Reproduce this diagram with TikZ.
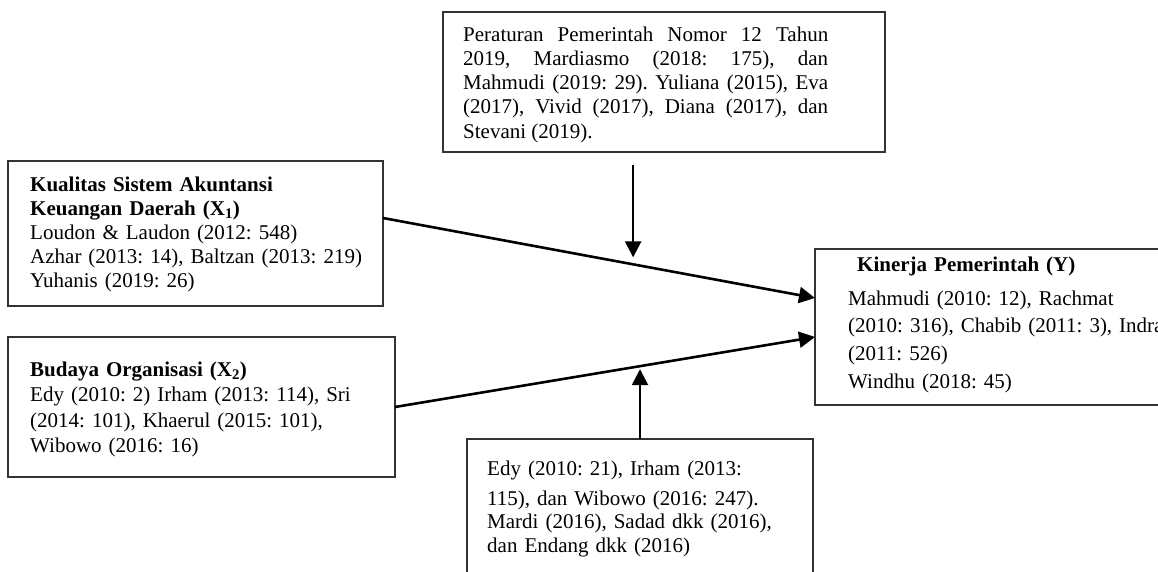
\documentclass[tikz,border=0pt]{standalone}
\usepackage{fontspec}
\setmainfont{Liberation Serif}
\usetikzlibrary{arrows.meta,calc}

\tikzset{
  refbox/.style={draw=black!80, line width=1.2pt, inner sep=0pt, outer sep=0pt, anchor=north west},
  reftext/.style={inner sep=0pt, anchor=base west, text width=380pt, align=left},
  link/.style={line width=2.6pt, -{Triangle[length=16pt,width=16pt]}},
}
\newcommand{\reffont}[1]{\fontsize{21}{#1}\selectfont\frenchspacing}

\begin{document}
\begin{tikzpicture}[x=1pt,y=-1pt]
    \useasboundingbox (0,0) rectangle (1158,571);
    \clip (0,0) rectangle (1158,571);
    \node[refbox, minimum width=442pt, minimum height=140pt] (rules) at (443,12) {};
    \node[refbox, minimum width=375pt, minimum height=145pt] (sakd) at (8,161) {};
    \node[refbox, minimum width=387pt, minimum height=140pt] (budaya) at (8,337) {};
    \node[refbox, minimum width=346pt, minimum height=161pt] (sources) at (467,439) {};
    \node[refbox, minimum width=385pt, minimum height=156pt] (kinerja) at (815,249) {};
    \node[reftext, align=justify, text width=365pt, font=\reffont{24.3}] (rulestext) at (463,41)
        {\noindent Peraturan Pemerintah Nomor 12 Tahun\linebreak 2019, Mardiasmo (2018: 175), dan\linebreak
         Mahmudi (2019: 29). Yuliana (2015), Eva\linebreak (2017), Vivid (2017), Diana (2017), dan\linebreak Stevani (2019).};
    \node[reftext, font=\reffont{24}] (sakdtext) at (30,191)
        {\textbf{Kualitas Sistem Akuntansi}\\ \textbf{Keuangan Daerah (X\textsubscript{1})}\\
         Loudon \& Laudon (2012: 548)\\ Azhar (2013: 14), Baltzan (2013: 219)\\ Yuhanis (2019: 26)};
    \node[reftext, font=\reffont{25.5}] (budayatext) at (30,376)
        {\textbf{Budaya Organisasi (X\textsubscript{2})}\\ Edy (2010: 2) Irham (2013: 114), Sri\\
         (2014: 101), Khaerul (2015: 101),\\ Wibowo (2016: 16)};
    \node[reftext, font=\reffont{23.5}] (sourcestext) at (487,475)
        {Edy (2010: 21), Irham (2013:\\[6.5pt] 115), dan Wibowo (2016: 247).\\
         Mardi (2016), Sadad dkk (2016),\\ dan Endang dkk (2016)};
    \node[reftext, font=\reffont{27.7}] (kinerjatext) at (848,271)
        {\hspace*{9pt}\textbf{Kinerja Pemerintah (Y)}\\[6.3pt] Mahmudi (2010: 12), Rachmat\\
         (2010: 316), Chabib (2011: 3), Indra\\ (2011: 526)\\ Windhu (2018: 45)};
    \draw[link] ($(sakd.east)+(0,-15.5)$) -- coordinate[pos=0.579] (on1) ($(kinerja.west)+(0,-29)$);
    \draw[link] (budaya.east) -- coordinate[pos=0.583] (on2) ($(kinerja.west)+(0,10)$);
    \draw[link] ($(on1 |- rules.south)+(0,13)$) -- ($(on1)+(0,-7)$);
    \draw[link] (sources.north) -- ($(sources.north |- on2)+(0,3)$);
\end{tikzpicture}
\end{document}
